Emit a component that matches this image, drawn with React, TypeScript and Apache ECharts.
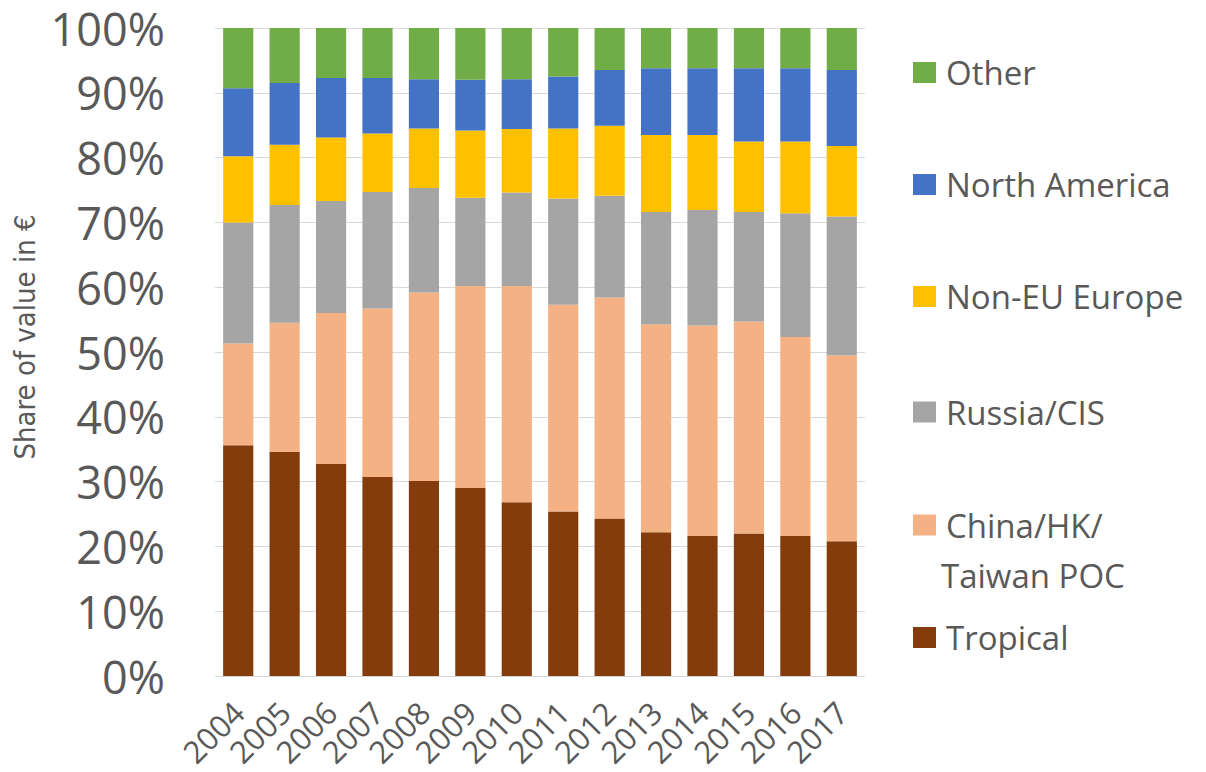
import React, { useEffect, useRef } from "react";
import * as echarts from "echarts";

const years = ["2004","2005","2006","2007","2008","2009","2010","2011","2012","2013","2014","2015","2016","2017"];
const tropical = [35.6, 34.6, 32.7, 30.7, 30.1, 29.0, 26.8, 25.4, 24.3, 22.2, 21.6, 22.0, 21.6, 20.8];
const china = [15.7, 19.9, 23.3, 26.0, 29.1, 31.2, 33.4, 31.9, 34.1, 32.1, 32.5, 32.7, 30.7, 28.7];
const russia = [18.7, 18.2, 17.3, 18.0, 16.1, 13.6, 14.4, 16.4, 15.7, 17.3, 17.8, 16.9, 19.1, 21.4];
const nonEU = [10.2, 9.3, 9.8, 9.0, 9.2, 10.4, 9.8, 10.8, 10.8, 11.9, 11.6, 10.9, 11.1, 10.9];
const northAmerica = [10.5, 9.5, 9.2, 8.6, 7.6, 7.8, 7.7, 8.0, 8.6, 10.3, 10.3, 11.3, 11.3, 11.7];
const other = [9.3, 8.5, 7.7, 7.7, 7.9, 8.0, 7.9, 7.5, 6.5, 6.2, 6.2, 6.2, 6.2, 6.5];

const seriesNames = ["Tropical", "China/HK/Taiwan POC", "Russia/CIS", "Non-EU Europe", "North America", "Other"];
const seriesData = [tropical, china, russia, nonEU, northAmerica, other];
const colors = ["#843c0c", "#f4b183", "#a5a5a5", "#ffc000", "#4472c4", "#70ad47"];
const yTicks = ["0%","10%","20%","30%","40%","50%","60%","70%","80%","90%","100%"];

const FONT = "'Open Sans', 'Noto Sans', sans-serif";
const GRAY = "#595959";

export default function App() {
  const ref = useRef<HTMLDivElement>(null);
  useEffect(() => {
    if (!ref.current) return;
    const chart = echarts.init(ref.current, null, { renderer: "svg" });
    const legendCenters: Record<string, number> = {
      "Other": 72.5,
      "North America": 184.5,
      "Non-EU Europe": 296.5,
      "Russia/CIS": 412,
      "China/HK/Taiwan POC": 525,
      "Tropical": 637.5,
    };
    const LEG_FS = 33;
    const legends = seriesNames.map((n) => ({
      data: [n],
      left: 913,
      top: legendCenters[n] - 20,
      orient: "vertical",
      padding: 0,
      itemWidth: 23,
      itemHeight: 21,
      itemGap: 0,
      icon: "rect",
      selectedMode: false,
      formatter: (name: string) => (name === "China/HK/Taiwan POC" ? "China/HK/" : name),
      textStyle: { fontSize: LEG_FS, color: GRAY, fontFamily: FONT, lineHeight: 40, padding: [0, 0, 0, 5] },
    }));
    chart.setOption({
      animation: false,
      backgroundColor: "#ffffff",
      grid: { left: 215, right: 341, top: 28, bottom: 96, containLabel: false },
      legend: legends,
      graphic: [
        {
          type: "text",
          left: 941,
          top: 575 - 20,
          silent: true,
          style: {
            text: "Taiwan POC",
            fontSize: LEG_FS,
            fontFamily: FONT,
            fill: GRAY,
            lineHeight: 40,
          },
        },
      ],
      xAxis: {
        type: "category",
        data: years,
        axisLine: { show: true, lineStyle: { color: "#d9d9d9", width: 1 } },
        axisTick: { show: false },
        axisLabel: { rotate: 45, fontSize: 31, color: GRAY, fontFamily: FONT, margin: 31, interval: 0 },
      },
      yAxis: {
        type: "value",
        min: 0,
        max: 100,
        interval: 10,
        name: "Share of value in €",
        nameLocation: "middle",
        nameGap: 156,
        nameTextStyle: {
          fontSize: 29,
          color: GRAY,
          fontFamily: "'Liberation Sans Narrow', 'DejaVu Sans Condensed', 'Open Sans', sans-serif",
          padding: [0, 0, 0, 30],
        },
        axisLine: { show: false },
        axisTick: { show: false },
        splitLine: { lineStyle: { color: "#d9d9d9", width: 1 } },
        axisLabel: {
          fontSize: 45,
          lineHeight: 44,
          color: GRAY,
          fontFamily: FONT,
          margin: 50,
          formatter: (v: number) => yTicks[Math.round(v / 10)],
        },
      },
      series: seriesNames.map((n, i) => ({
        name: n,
        type: "bar",
        stack: "total",
        data: seriesData[i],
        barCategoryGap: "35%",
        itemStyle: { color: colors[i] },
      })),
    });
    return () => chart.dispose();
  }, []);
  return (
    <div
      ref={ref}
      style={{ position: "absolute", left: 0, top: 0, width: 1206, height: 772 }}
    />
  );
}
